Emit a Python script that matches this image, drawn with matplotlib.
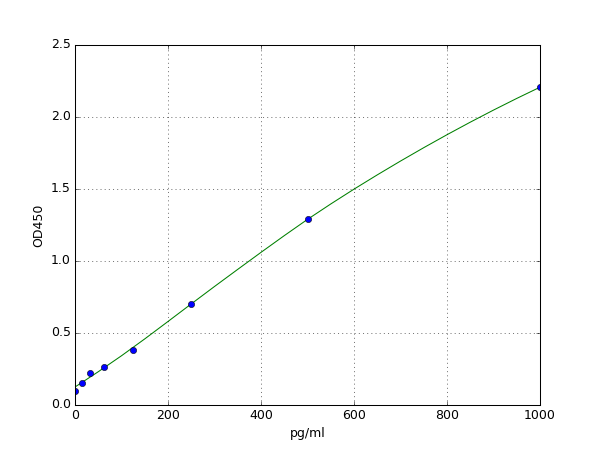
import matplotlib
matplotlib.use("Agg")
import matplotlib.pyplot as plt

plt.style.use("classic")

# Standard points
conc = [0, 15.6, 31.25, 62.5, 125, 250, 500, 1000]
od = [0.099, 0.150, 0.219, 0.263, 0.383, 0.700, 1.295, 2.208]

# Fitted curve values
curve_x = [0, 50, 100, 150, 200, 250, 300, 350, 400, 450, 500,
           550, 600, 650, 700, 750, 800, 850, 900, 950, 1000]
curve_y = [0.125, 0.231, 0.342, 0.459, 0.580, 0.702, 0.823, 0.942, 1.060,
           1.176, 1.289, 1.396, 1.499, 1.598, 1.694, 1.787, 1.877, 1.964,
           2.048, 2.129, 2.207]

xticks = [0, 200, 400, 600, 800, 1000]
yticks = [0.0, 0.5, 1.0, 1.5, 2.0, 2.5]

fig = plt.figure(figsize=(8, 6), dpi=75)
ax = fig.add_subplot(111)
ax.plot(curve_x, curve_y, color="g", linewidth=1)
ax.plot(conc, od, "o", color="b", markersize=6)
ax.set_xlim(0, 1000)
ax.set_ylim(0, 2.5)
ax.set_xticks(xticks)
ax.set_yticks(yticks)
ax.set_xlabel("pg/ml")
ax.set_ylabel("OD450")
ax.grid(True)
fig.savefig("out.png", dpi=75)
